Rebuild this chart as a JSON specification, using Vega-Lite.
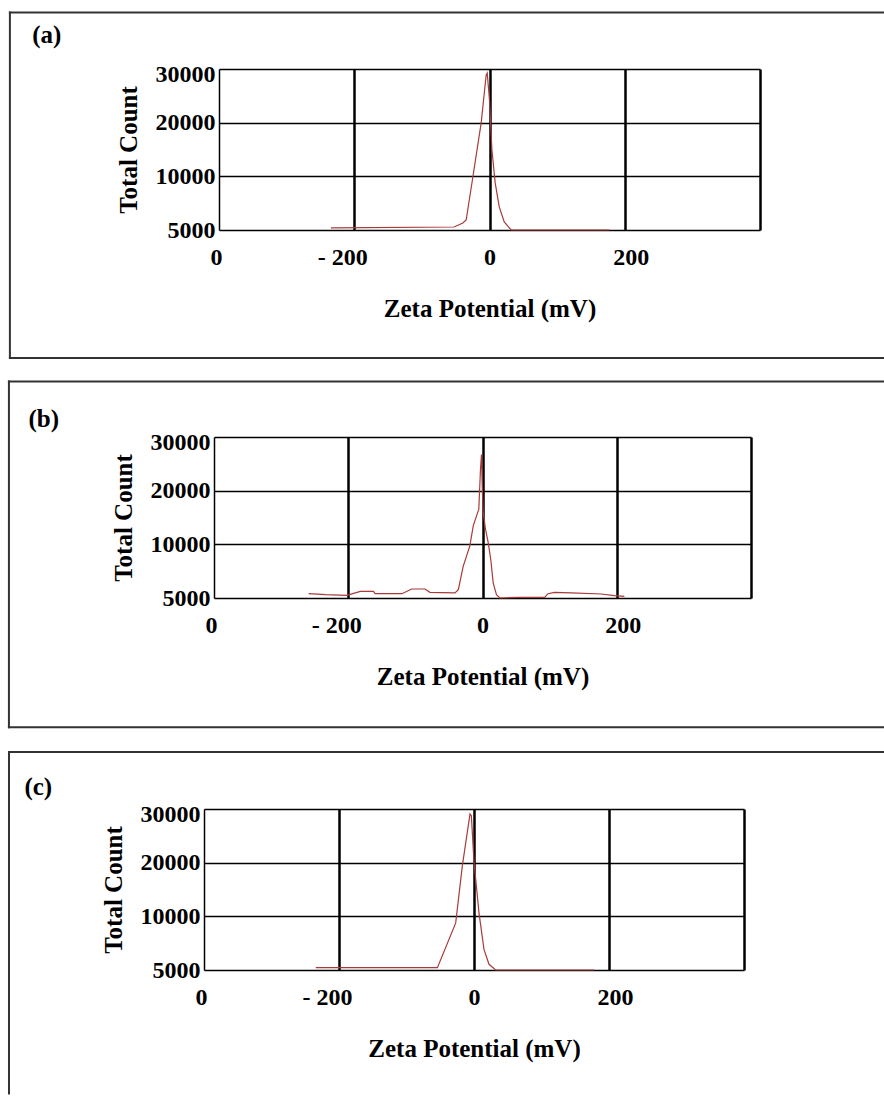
{
  "$schema": "https://vega.github.io/schema/vega-lite/v6.json",
  "background": "white",
  "padding": {"left": 7, "top": 10, "right": 0, "bottom": 0},
  "spacing": 19,
  "datasets": {
    "a": [
      {"mv": -234.5, "count": 5200}, {"mv": -52.3, "count": 5280}, {"mv": -39.4, "count": 5650},
      {"mv": -34.5, "count": 5930}, {"mv": -24.6, "count": 9940}, {"mv": -12.3, "count": 19950},
      {"mv": -4.9, "count": 28900}, {"mv": -3.4, "count": 29250}, {"mv": 0, "count": 24240},
      {"mv": 3.6, "count": 14900}, {"mv": 8.4, "count": 9390}, {"mv": 14.4, "count": 7150},
      {"mv": 21.8, "count": 5750}, {"mv": 32.1, "count": 5000}, {"mv": 177.3, "count": 5000}
    ],
    "b": [
      {"mv": -259, "count": 5400}, {"mv": -234, "count": 5310}, {"mv": -202, "count": 5240},
      {"mv": -182, "count": 5620}, {"mv": -162.4, "count": 5620}, {"mv": -160, "count": 5400},
      {"mv": -120, "count": 5400}, {"mv": -105.5, "count": 5840}, {"mv": -85.7, "count": 5840},
      {"mv": -78.3, "count": 5525}, {"mv": -41, "count": 5470}, {"mv": -36, "count": 5780},
      {"mv": -28.7, "count": 7960}, {"mv": -23.8, "count": 8900}, {"mv": -18.9, "count": 9840},
      {"mv": -13.8, "count": 13430}, {"mv": -8.9, "count": 15310}, {"mv": -5.5, "count": 16560},
      {"mv": -3, "count": 23990}, {"mv": -1.5, "count": 26750}, {"mv": -0.4, "count": 20920},
      {"mv": 1, "count": 15950}, {"mv": 4.5, "count": 12810}, {"mv": 8.5, "count": 10320},
      {"mv": 12.3, "count": 8590}, {"mv": 15.9, "count": 6410}, {"mv": 20.8, "count": 5310},
      {"mv": 25.7, "count": 5000}, {"mv": 53, "count": 5060}, {"mv": 92.6, "count": 5060},
      {"mv": 97.6, "count": 5400}, {"mv": 107.4, "count": 5525}, {"mv": 132, "count": 5470},
      {"mv": 176.8, "count": 5375}, {"mv": 196.6, "count": 5215}, {"mv": 211.4, "count": 5150}
    ],
    "c": [
      {"mv": -234.5, "count": 5220}, {"mv": -54.2, "count": 5220}, {"mv": -27.1, "count": 9390},
      {"mv": -17.2, "count": 19490}, {"mv": -5.9, "count": 29070}, {"mv": -3.9, "count": 28760},
      {"mv": 0, "count": 20130}, {"mv": 7.4, "count": 10650}, {"mv": 14.8, "count": 6920},
      {"mv": 22.2, "count": 5530}, {"mv": 32.1, "count": 5000}, {"mv": 177.8, "count": 5000}
    ]
  },
  "vconcat": [
    {
      "width": 541, "height": 161,
      "layer": [
        {"data": {"values": [{}]}, "mark": {"type": "rule", "color": "#333", "strokeWidth": 2, "strokeCap": "square"},
         "encoding": {"x": {"datum": -709.2, "type": "quantitative"}, "x2": {"datum": 583}, "y": {"datum": 40546, "type": "quantitative"}}},
        {"data": {"values": [{}]}, "mark": {"type": "rule", "color": "#333", "strokeWidth": 2, "strokeCap": "square"},
         "encoding": {"x": {"datum": -709.2, "type": "quantitative"}, "y": {"datum": -6925, "type": "quantitative"}, "y2": {"datum": 40546}}},
        {"data": {"values": [{}]}, "mark": {"type": "rule", "color": "#333", "strokeWidth": 2, "strokeCap": "square"},
         "encoding": {"x": {"datum": -709.2, "type": "quantitative"}, "x2": {"datum": 583}, "y": {"datum": -6925, "type": "quantitative"}}},
        {"data": {"values": [{}]}, "mark": {"type": "text", "align": "left", "baseline": "middle", "font": "Liberation Serif", "fontWeight": "bold", "fontSize": 25, "color": "black"},
         "encoding": {"x": {"datum": -676.3, "type": "quantitative"}, "y": {"datum": 36260, "type": "quantitative"}, "text": {"value": "(a)"}}},
        {"data": {"name": "a"}, "mark": {"type": "line", "color": "#a83a3a", "strokeWidth": 1.2},
         "encoding": {
           "x": {"field": "mv", "type": "quantitative", "scale": {"domain": [-400, 400], "range": [0, 541], "nice": false, "zero": false},
                 "axis": {"values": [-400, -200, 0, 200, 400], "title": "Zeta Potential (mV)",
                          "labelExpr": "datum.value == -400 ? '0' : datum.value == -200 ? '- 200' : datum.value == 400 ? '' : datum.label",
                          "labelPadding": 15, "titlePadding": 27,
                          "gridWidth": {"condition": {"test": "datum.value == -400", "value": 1.5}, "value": 2.5},
                          "labelOffset": {"condition": [{"test": "datum.value == -200", "value": -12}, {"test": "datum.value == 200", "value": 6}, {"test": "datum.value == -400", "value": -3}], "value": 0}}},
           "y": {"field": "count", "type": "quantitative", "scale": {"domain": [5000, 10000, 20000, 30000], "range": [161, 107.33, 53.67, 0], "nice": false, "zero": false},
                 "axis": {"values": [5000, 10000, 20000, 30000], "format": "d", "title": "Total Count", "offset": 0, "labelPadding": 4, "titlePadding": 14, "gridWidth": 1.5,
                          "labelOffset": {"condition": {"test": "datum.value == 30000", "value": 5}, "value": 0}}}
         }}
      ]
    },
    {
      "width": 532, "height": 161,
      "layer": [
        {"data": {"values": [{}]}, "mark": {"type": "rule", "color": "#333", "strokeWidth": 2, "strokeCap": "square"},
         "encoding": {"x": {"datum": -705.5, "type": "quantitative"}, "x2": {"datum": 597.7}, "y": {"datum": 40360, "type": "quantitative"}}},
        {"data": {"values": [{}]}, "mark": {"type": "rule", "color": "#333", "strokeWidth": 2, "strokeCap": "square"},
         "encoding": {"x": {"datum": -705.5, "type": "quantitative"}, "y": {"datum": -7037, "type": "quantitative"}, "y2": {"datum": 40360}}},
        {"data": {"values": [{}]}, "mark": {"type": "rule", "color": "#333", "strokeWidth": 2, "strokeCap": "square"},
         "encoding": {"x": {"datum": -705.5, "type": "quantitative"}, "x2": {"datum": 597.7}, "y": {"datum": -7037, "type": "quantitative"}}},
        {"data": {"values": [{}]}, "mark": {"type": "text", "align": "left", "baseline": "middle", "font": "Liberation Serif", "fontWeight": "bold", "fontSize": 25, "color": "black"},
         "encoding": {"x": {"datum": -676.5, "type": "quantitative"}, "y": {"datum": 33390, "type": "quantitative"}, "text": {"value": "(b)"}}},
        {"data": {"name": "b"}, "mark": {"type": "line", "color": "#a83a3a", "strokeWidth": 1.2},
         "encoding": {
           "x": {"field": "mv", "type": "quantitative", "scale": {"domain": [-400, 400], "range": [-5, 532], "nice": false, "zero": false},
                 "axis": {"values": [-400, -200, 0, 200, 400], "title": "Zeta Potential (mV)",
                          "labelExpr": "datum.value == -400 ? '0' : datum.value == -200 ? '- 200' : datum.value == 400 ? '' : datum.label",
                          "labelPadding": 15, "titlePadding": 27,
                          "gridWidth": {"condition": {"test": "datum.value == -400", "value": 1.5}, "value": 2.5},
                          "labelOffset": {"condition": [{"test": "datum.value == -200", "value": -12}, {"test": "datum.value == 200", "value": 6}, {"test": "datum.value == -400", "value": -3}], "value": 0}}},
           "y": {"field": "count", "type": "quantitative", "scale": {"domain": [5000, 10000, 20000, 30000], "range": [161, 107.33, 53.67, 0], "nice": false, "zero": false},
                 "axis": {"values": [5000, 10000, 20000, 30000], "format": "d", "title": "Total Count", "offset": 5, "labelPadding": 4, "titlePadding": 14, "gridWidth": 1.5,
                          "labelOffset": {"condition": {"test": "datum.value == 30000", "value": 5}, "value": 0}}}
         }}
      ]
    },
    {
      "width": 525, "height": 161,
      "layer": [
        {"data": {"values": [{}]}, "mark": {"type": "rule", "color": "white", "strokeWidth": 2, "opacity": 0},
         "encoding": {"x": {"datum": -688.9, "type": "quantitative"}, "x2": {"datum": -600}, "y": {"datum": 41180, "type": "quantitative"}}},
        {"data": {"values": [{}]}, "mark": {"type": "rule", "color": "#333", "strokeWidth": 2, "strokeCap": "square"},
         "encoding": {"x": {"datum": -688.9, "type": "quantitative"}, "x2": {"datum": 606.7}, "y": {"datum": 40620, "type": "quantitative"}}},
        {"data": {"values": [{}]}, "mark": {"type": "rule", "color": "#333", "strokeWidth": 2, "strokeCap": "square"},
         "encoding": {"x": {"datum": -688.9, "type": "quantitative"}, "y": {"datum": -6515, "type": "quantitative"}, "y2": {"datum": 40620}}},
        {"data": {"values": [{}]}, "mark": {"type": "text", "align": "left", "baseline": "middle", "font": "Liberation Serif", "fontWeight": "bold", "fontSize": 25, "color": "black"},
         "encoding": {"x": {"datum": -666, "type": "quantitative"}, "y": {"datum": 34080, "type": "quantitative"}, "text": {"value": "(c)"}}},
        {"data": {"name": "c"}, "mark": {"type": "line", "color": "#a83a3a", "strokeWidth": 1.2},
         "encoding": {
           "x": {"field": "mv", "type": "quantitative", "scale": {"domain": [-400, 400], "range": [-15, 525], "nice": false, "zero": false},
                 "axis": {"values": [-400, -200, 0, 200, 400], "title": "Zeta Potential (mV)",
                          "labelExpr": "datum.value == -400 ? '0' : datum.value == -200 ? '- 200' : datum.value == 400 ? '' : datum.label",
                          "labelPadding": 15, "titlePadding": 27,
                          "gridWidth": {"condition": {"test": "datum.value == -400", "value": 1.5}, "value": 2.5},
                          "labelOffset": {"condition": [{"test": "datum.value == -200", "value": -12}, {"test": "datum.value == 200", "value": 6}, {"test": "datum.value == -400", "value": -3}], "value": 0}}},
           "y": {"field": "count", "type": "quantitative", "scale": {"domain": [5000, 10000, 20000, 30000], "range": [161, 107.33, 53.67, 0], "nice": false, "zero": false},
                 "axis": {"values": [5000, 10000, 20000, 30000], "format": "d", "title": "Total Count", "offset": 15, "labelPadding": 4, "titlePadding": 14, "gridWidth": 1.5,
                          "labelOffset": {"condition": {"test": "datum.value == 30000", "value": 5}, "value": 0}}}
         }}
      ]
    }
  ],
  "config": {
    "view": {"stroke": null},
    "axis": {
      "labelFont": "Liberation Serif", "labelFontWeight": "bold", "labelFontSize": 24, "labelColor": "black",
      "titleFont": "Liberation Serif", "titleFontWeight": "bold", "titleFontSize": 25, "titleColor": "black",
      "domain": false, "ticks": false, "tickSize": 0, "grid": true, "gridColor": "black", "gridOpacity": 1,
      "labelFlush": false, "labelOverlap": false, "labelBound": false
    }
  }
}
